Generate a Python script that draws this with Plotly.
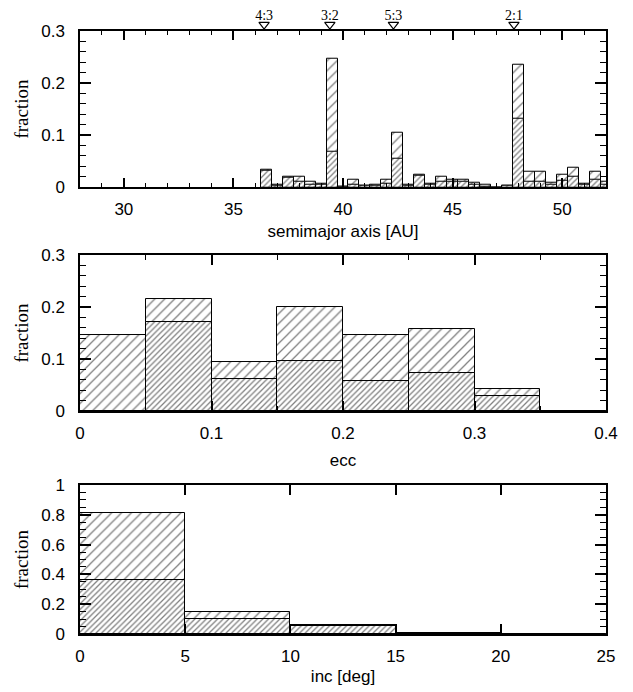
import plotly.graph_objects as go

# ---- semimajor axis histogram (bins 0.5 AU wide) ----
a_centers = [36.5, 37.0, 37.5, 38.0, 38.5, 39.0, 39.5, 40.0, 40.5, 41.0, 41.5, 42.0,
             42.5, 43.0, 43.5, 44.0, 44.5, 45.0, 45.5, 46.0, 46.5, 47.0, 47.5, 48.0,
             48.5, 49.0, 49.5, 50.0, 50.5, 51.0, 51.5, 52.0]
a_all = [0.034, 0.005, 0.020, 0.020, 0.010, 0.006, 0.247, 0.002, 0.015, 0.003, 0.004, 0.015,
         0.105, 0.004, 0.025, 0.007, 0.020, 0.015, 0.015, 0.008, 0.005, 0.000, 0.003, 0.234,
         0.029, 0.029, 0.008, 0.025, 0.038, 0.006, 0.029, 0.010]
a_sub = [0.031, 0.003, 0.018, 0.010, 0.005, 0.004, 0.068, 0.002, 0.005, 0.003, 0.003, 0.006,
         0.054, 0.003, 0.022, 0.005, 0.010, 0.010, 0.010, 0.005, 0.002, 0.000, 0.003, 0.131,
         0.010, 0.010, 0.005, 0.012, 0.020, 0.004, 0.015, 0.005]
a_binw = 0.5

res_labels = ["4:3", "3:2", "5:3", "2:1"]
res_a = [36.4, 39.4, 42.3, 47.8]

# ---- eccentricity histogram ----
e_centers = [0.025, 0.075, 0.125, 0.175, 0.225, 0.275, 0.325, 0.375]
e_all = [0.147, 0.216, 0.095, 0.200, 0.147, 0.157, 0.043, 0.0]
e_sub = [0.000, 0.172, 0.062, 0.097, 0.058, 0.073, 0.029, 0.0]
e_binw = 0.05

# ---- inclination histogram ----
i_centers = [2.5, 7.5, 12.5, 17.5, 22.5]
i_all = [0.81, 0.15, 0.060, 0.006, 0.0]
i_sub = [0.36, 0.098, 0.053, 0.004, 0.0]
i_binw = 5

SANS = "Liberation Sans"
SERIF = "Liberation Serif"
TICKC = "black"

fig = go.Figure()


def add_hist(centers, allv, subv, w, xa, ya):
    fig.add_trace(go.Bar(
        x=centers, y=allv, width=w, xaxis=xa, yaxis=ya,
        marker=dict(color="white", line=dict(color="black", width=1),
                    pattern=dict(shape="/", size=7, solidity=0.18,
                                 fgcolor="black", bgcolor="white")),
        showlegend=False, hoverinfo="skip"))
    fig.add_trace(go.Bar(
        x=centers, y=subv, width=w, xaxis=xa, yaxis=ya,
        marker=dict(color="white", line=dict(color="black", width=1),
                    pattern=dict(shape="/", size=4, solidity=0.32,
                                 fgcolor="black", bgcolor="white")),
        showlegend=False, hoverinfo="skip"))


add_hist(a_centers, a_all, a_sub, a_binw, "x", "y")
add_hist(e_centers, e_all, e_sub, e_binw, "x2", "y2")
add_hist(i_centers, i_all, i_sub, i_binw, "x3", "y3")

# resonance markers and labels on a hidden strip axis above the top panel
fig.add_trace(go.Scatter(
    x=res_a, y=[0.27] * len(res_a), xaxis="x", yaxis="y4", mode="markers",
    marker=dict(symbol="triangle-down-open", size=9, color="black",
                line=dict(color="black", width=1.2)),
    cliponaxis=False, showlegend=False, hoverinfo="skip"))
fig.add_trace(go.Scatter(
    x=res_a, y=[0.62] * len(res_a), xaxis="x", yaxis="y4", mode="text",
    text=res_labels, textposition="middle center",
    textfont=dict(family=SERIF, size=14, color="black"),
    cliponaxis=False, showlegend=False, hoverinfo="skip"))

TF = dict(family=SANS, size=17, color="black")
YT = dict(family=SERIF, size=19, color="black")


def xaxis(rng, dtick, minor_dtick, title, anchor, standoff):
    d = dict(range=rng, dtick=dtick, showline=True, linecolor="black", linewidth=1.5,
             mirror="ticks", ticks="inside", ticklen=10, tickwidth=1.5, tickcolor=TICKC,
             showgrid=False, zeroline=False, ticklabelstandoff=6, automargin=False,
             tickfont=TF, title=dict(text=title, font=TF, standoff=standoff),
             domain=[0, 1], anchor=anchor)
    if minor_dtick:
        d["minor"] = dict(ticks="inside", ticklen=5, tickwidth=1.2, tickcolor=TICKC,
                          dtick=minor_dtick, showgrid=False)
    return d


def yaxis(rng, dtick, minor_dtick, dom, anchor):
    return dict(range=rng, dtick=dtick, showline=True, linecolor="black", linewidth=1.5,
                mirror="ticks", ticks="inside", ticklen=11, tickwidth=1.5, tickcolor=TICKC,
                showgrid=False, zeroline=False, ticklabelstandoff=10, automargin=False,
                tickfont=TF,
                minor=dict(ticks="inside", ticklen=6, tickwidth=1.2, tickcolor=TICKC,
                           dtick=minor_dtick, showgrid=False),
                title=dict(text="fraction", font=YT, standoff=8),
                domain=dom, anchor=anchor)


# page body has an 8px default margin, so the figure is sized to fit inside the window
fig.update_layout(
    width=625, height=684,
    margin=dict(l=72, r=27, t=0, b=58),
    paper_bgcolor="white", plot_bgcolor="white",
    barmode="overlay", bargap=0,
    showlegend=False,
    xaxis=xaxis([28, 52], 5, 1, "semimajor axis [AU]", "y", 7),
    yaxis=yaxis([0, 0.3], 0.1, 0.02, [0.7136, 0.9637], "x"),
    xaxis2=xaxis([0, 0.4], 0.1, 0.05, "ecc", "y2", 12),
    yaxis2=yaxis([0, 0.3], 0.1, 0.02, [0.3562, 0.6054], "x2"),
    xaxis3=xaxis([0, 25], 5, None, "inc [deg]", "y3", 5),
    yaxis3=yaxis([0, 1], 0.2, 0.05, [0.0, 0.2380], "x3"),
    yaxis4=dict(domain=[0.9637, 1.0], range=[0, 1], anchor="x", visible=False,
                fixedrange=True),
)

fig.write_html("out.html")
